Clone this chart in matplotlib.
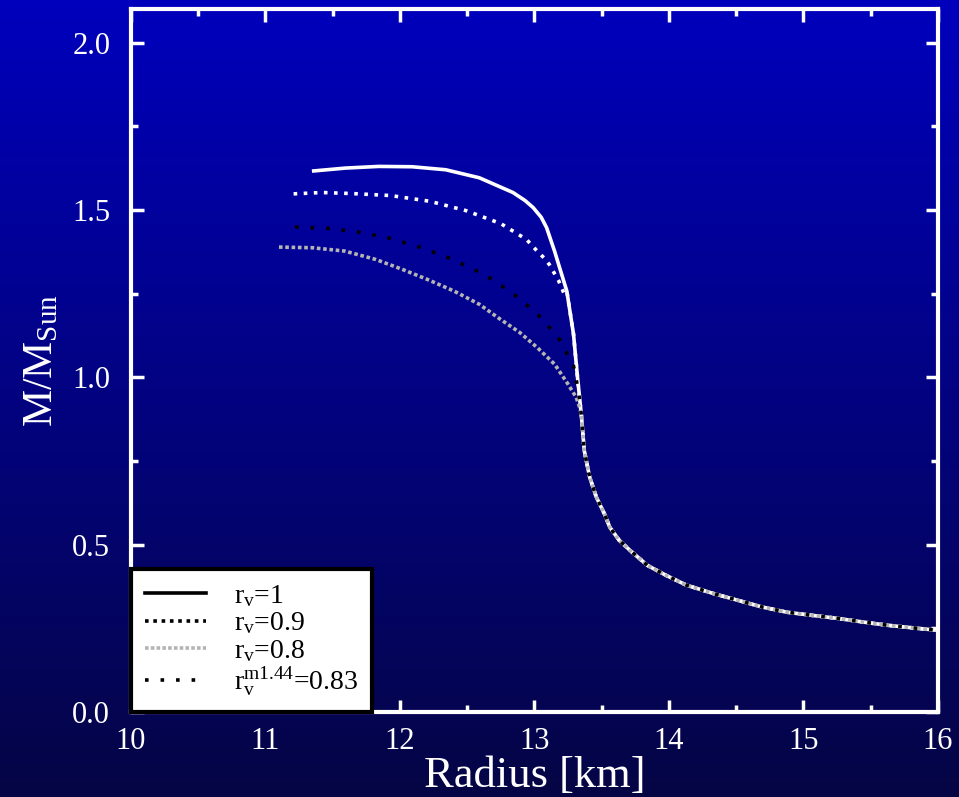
import numpy as np
import matplotlib
matplotlib.use("Agg")
import matplotlib.pyplot as plt
from matplotlib.lines import Line2D
from matplotlib.ticker import MultipleLocator

plt.rcParams['font.family'] = ['Liberation Serif', 'DejaVu Serif']
plt.rcParams['mathtext.fontset'] = 'custom'
plt.rcParams['mathtext.rm'] = 'Liberation Serif'
plt.rcParams['mathtext.it'] = 'Liberation Serif:italic'

# Shared low-mass tail (all curves coincide here)
tail_r = [13.35, 13.37, 13.41, 13.46, 13.52, 13.56, 13.63, 13.71, 13.84, 13.98, 14.13,
          14.33, 14.51, 14.69, 14.88, 15.06, 15.25, 15.44, 15.63, 15.80, 16.0]
tail_m = [0.880, 0.781, 0.702, 0.642, 0.592, 0.552, 0.513, 0.483, 0.438, 0.408, 0.379,
          0.354, 0.334, 0.314, 0.298, 0.289, 0.280, 0.269, 0.259, 0.252, 0.244]
# knee shared by r_v=1 and r_v=0.9
knee_r = [13.24, 13.29, 13.32]
knee_m = [1.258, 1.129, 0.999]

# r_v = 1
r1_r = [11.345, 11.594, 11.843, 12.09, 12.34, 12.59, 12.84, 12.93, 12.99, 13.05, 13.09,
        13.149, 13.21]
r1_m = [1.616, 1.625, 1.630, 1.629, 1.620, 1.596, 1.552, 1.528, 1.507, 1.478, 1.447,
        1.377, 1.297]
# r_v = 0.9
r09_r = [11.209, 11.42, 11.64, 11.93, 12.22, 12.49, 12.75, 12.94, 13.02, 13.07, 13.11,
         13.18, 13.22]
r09_m = [1.548, 1.552, 1.549, 1.543, 1.526, 1.498, 1.459, 1.412, 1.377, 1.357, 1.337,
         1.288, 1.250]
# r_v = 0.8
r08_r = [11.10, 11.35, 11.59, 11.82, 12.02, 12.20, 12.40, 12.59, 12.74, 12.89, 13.02,
         13.15, 13.25, 13.31, 13.34]
r08_m = [1.389, 1.387, 1.377, 1.352, 1.322, 1.293, 1.258, 1.218, 1.175, 1.134, 1.089,
         1.039, 0.979, 0.940, 0.905]
# r_v^{m1.44} = 0.83
r083_r = [11.22, 11.46, 11.69, 11.93, 12.16, 12.38, 12.59, 12.69, 12.88, 13.05, 13.19,
          13.29, 13.33]
r083_m = [1.449, 1.445, 1.434, 1.415, 1.387, 1.354, 1.314, 1.291, 1.238, 1.178, 1.111,
          1.034, 0.952]

labels = [r'r$_{\rm v}$=1', r'r$_{\rm v}$=0.9', r'r$_{\rm v}$=0.8',
          r'r$_{\rm v}^{\rm m1.44}$=0.83']
x_ticks = [10, 11, 12, 13, 14, 15, 16]
y_ticks = [0.0, 0.5, 1.0, 1.5, 2.0]

fig = plt.figure(figsize=(9.59, 7.97), dpi=100)

# gradient background
bg = fig.add_axes([0, 0, 1, 1], zorder=-10)
grad = np.linspace(0, 1, 256)[:, None]
top = np.array([0.0, 0.0, 0.74])
bot = np.array([0.02, 0.02, 0.27])
img = top[None, None, :] * (1 - grad[:, :, None]) + bot[None, None, :] * grad[:, :, None]
bg.imshow(img, aspect='auto', extent=[0, 1, 0, 1])
bg.axis('off')

ax = fig.add_axes([0.1366, 0.1066, 0.8415, 0.882])
ax.patch.set_alpha(0)

lw = 2.6
ax.plot(r1_r + knee_r + tail_r, r1_m + knee_m + tail_m, color='white', lw=lw,
        solid_capstyle='butt', solid_joinstyle='round')
ax.plot(r09_r + knee_r + tail_r, r09_m + knee_m + tail_m, color='white', lw=lw,
        dashes=(1, 1.8))
ax.plot(r08_r + tail_r, r08_m + tail_m, color='#b4b4b4', lw=lw, dashes=(1, 0.75))
ax.plot(r083_r + tail_r, r083_m + tail_m, color='black', lw=lw, dashes=(1, 3.3))

ax.set_xlim(10, 16)
ax.set_ylim(0, 2.1)
ax.set_xticks(x_ticks)
ax.set_yticks(y_ticks)
ax.set_yticklabels([f'{v:.1f}' for v in y_ticks])
ax.xaxis.set_minor_locator(MultipleLocator(0.5))
ax.yaxis.set_minor_locator(MultipleLocator(0.25))
ax.tick_params(which='both', direction='in', top=True, right=True, colors='white',
               width=2.5, labelsize=22)
ax.tick_params(which='major', length=9)
ax.tick_params(which='minor', length=5)
ax.tick_params(axis='x', pad=11)
ax.tick_params(axis='y', pad=15)
for s in ax.spines.values():
    s.set_color('white')
    s.set_linewidth(3)

ax.set_xlabel('Radius [km]', color='white', fontsize=32, labelpad=0)
ax.set_ylabel(r'M/M$_{\rm Sun}$', color='white', fontsize=30, labelpad=8)

handles = [
    Line2D([], [], color='black', lw=2.6),
    Line2D([], [], color='black', lw=2.6, dashes=(1, 1.3)),
    Line2D([], [], color='#b4b4b4', lw=2.6, dashes=(1, 0.6)),
    Line2D([], [], color='black', lw=2.6, dashes=(1, 3.3)),
]
leg = ax.legend(handles, labels, loc='lower left', fontsize=20, frameon=True,
                fancybox=False, borderaxespad=0, handlelength=2.2,
                labelspacing=0.05, borderpad=0.5, handletextpad=1.0)
leg.get_frame().set_edgecolor('black')
leg.get_frame().set_linewidth(3)
leg.get_frame().set_facecolor('white')
leg.get_frame().set_alpha(1)
leg.set_zorder(10)

fig.savefig('out.png', dpi=100)
